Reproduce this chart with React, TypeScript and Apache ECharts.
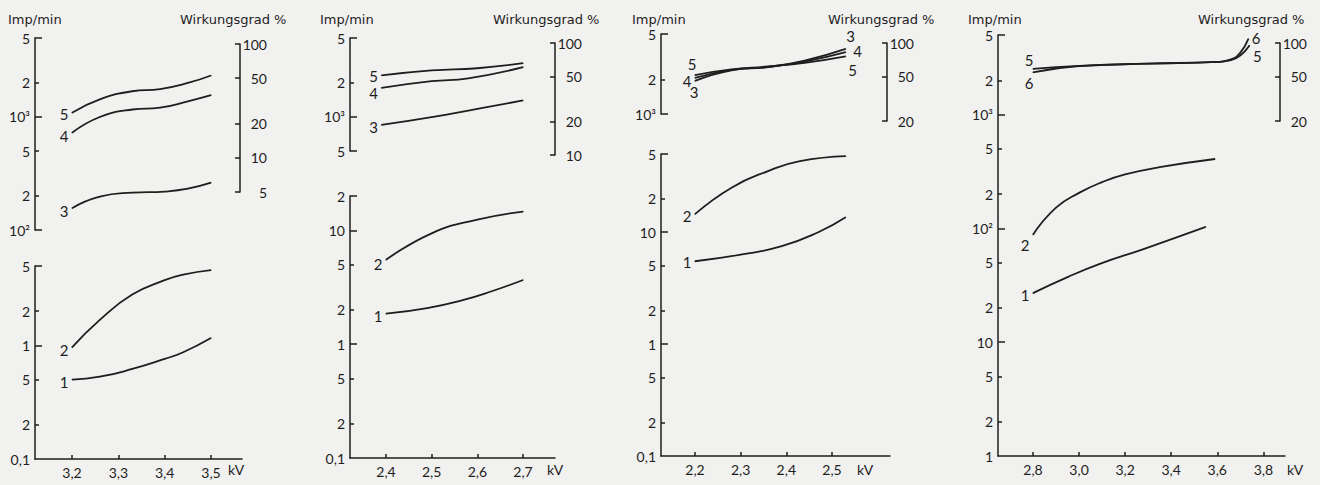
import React, { useEffect, useRef } from 'react';
import * as echarts from 'echarts';

type Pt = [number, number];

const Y_TITLE = 'Imp/min';
const EFF_TITLE = 'Wirkungsgrad %';
const X_UNIT = 'kV';

// ---- x (kV) tick values ----
const P1_KV_TICKS = [3.2, 3.3, 3.4, 3.5];
const P2_KV_TICKS = [2.4, 2.5, 2.6, 2.7];
const P3_KV_TICKS = [2.2, 2.3, 2.4, 2.5];
const P4_KV_TICKS = [2.8, 3.0, 3.2, 3.4, 3.6, 3.8];

// ---- y (Imp/min) tick values and labels ----
const P1_UP_TICKS = [100, 200, 500, 1000, 2000, 5000];
const P1_UP_LABELS = ['10²', '2', '5', '10³', '2', '5'];
const P1_UP_MAJOR = [100, 1000, 5000];
const P1_UP_MINOR = [200, 500, 2000];
const P1_LO_TICKS = [0.1, 0.2, 0.5, 1, 2, 5];
const P1_LO_LABELS = ['0,1', '2', '5', '1', '2', '5'];
const P1_LO_MAJOR = [1, 5];
const P1_LO_MINOR = [0.2, 0.5, 2];

const P2_UP_TICKS = [500, 1000, 2000, 5000];
const P2_UP_LABELS = ['5', '10³', '2', '5'];
const P2_UP_MAJOR = [500, 1000, 5000];
const P2_UP_MINOR = [2000];
const P2_LO_TICKS = [0.1, 0.2, 0.5, 1, 2, 5, 10, 20];
const P2_LO_LABELS = ['0,1', '2', '5', '1', '2', '5', '10', '2'];
const P2_LO_MAJOR = [1, 10, 20];
const P2_LO_MINOR = [0.2, 0.5, 2, 5];

const P3_UP_TICKS = [1000, 2000, 5000];
const P3_UP_LABELS = ['10³', '2', '5'];
const P3_UP_MAJOR = [1000, 5000];
const P3_UP_MINOR = [2000];
const P3_LO_TICKS = [0.1, 0.2, 0.5, 1, 2, 5, 10, 20, 50];
const P3_LO_LABELS = ['0,1', '2', '5', '1', '2', '5', '10', '2', '5'];
const P3_LO_MAJOR = [1, 10, 50];
const P3_LO_MINOR = [0.2, 0.5, 2, 5, 20];

const P4_TICKS = [1, 2, 5, 10, 20, 50, 100, 200, 500, 1000, 2000, 5000];
const P4_LABELS = ['1', '2', '5', '10', '2', '5', '10²', '2', '5', '10³', '2', '5'];
const P4_MAJOR = [10, 100, 1000, 5000];
const P4_MINOR = [2, 5, 20, 50, 200, 500, 2000];

// ---- efficiency (%) ticks ----
const P1_EFF_TICKS = [5, 10, 20, 50, 100];
const P2_EFF_TICKS = [10, 20, 50, 100];
const P3_EFF_TICKS = [20, 50, 100];
const P4_EFF_TICKS = [20, 50, 100];

// ---- curves: [kV, value] ----
const P1_C5: Pt[] = [[3.2, 1090], [3.26, 1430], [3.33, 1690], [3.39, 1765], [3.45, 2000], [3.5, 2330]];
const P1_C4: Pt[] = [[3.2, 725], [3.26, 1000], [3.33, 1165], [3.39, 1210], [3.45, 1375], [3.5, 1560]];
const P1_C3: Pt[] = [[3.2, 156], [3.26, 197], [3.33, 214], [3.4, 219], [3.45, 232], [3.5, 262]];
const P1_C2: Pt[] = [[3.2, 0.96], [3.26, 1.68], [3.33, 2.8], [3.4, 3.75], [3.44, 4.2], [3.5, 4.6]];
const P1_C1: Pt[] = [[3.2, 0.5], [3.26, 0.53], [3.33, 0.62], [3.4, 0.76], [3.44, 0.87], [3.5, 1.16]];

const P2_C5: Pt[] = [[2.39, 2330], [2.5, 2580], [2.6, 2700], [2.7, 2990]];
const P2_C4: Pt[] = [[2.39, 1810], [2.5, 2075], [2.58, 2200], [2.7, 2760]];
const P2_C3: Pt[] = [[2.39, 850], [2.5, 995], [2.6, 1180], [2.7, 1400]];
const P2_C2: Pt[] = [[2.4, 5.5], [2.5, 9.4], [2.6, 12.4], [2.7, 14.6]];
const P2_C1: Pt[] = [[2.4, 1.85], [2.49, 2.07], [2.57, 2.45], [2.63, 2.9], [2.7, 3.66]];

const P3_C5: Pt[] = [[2.2, 2190], [2.28, 2450], [2.36, 2600], [2.44, 2800], [2.53, 3190]];
const P3_C4: Pt[] = [[2.2, 2070], [2.28, 2430], [2.36, 2580], [2.44, 2870], [2.53, 3470]];
const P3_C3: Pt[] = [[2.2, 1945], [2.28, 2410], [2.36, 2570], [2.44, 2930], [2.53, 3710]];
const P3_C2: Pt[] = [[2.2, 14.5], [2.28, 25], [2.36, 35.2], [2.43, 43.1], [2.53, 47.8]];
const P3_C1: Pt[] = [[2.2, 5.5], [2.3, 6.3], [2.39, 7.5], [2.47, 10], [2.53, 13.6]];

const P4_C5: Pt[] = [[2.8, 2520], [3.0, 2680], [3.3, 2800], [3.6, 2900], [3.66, 3000], [3.7, 3300], [3.74, 4040]];
const P4_C6: Pt[] = [[2.8, 2350], [3.0, 2660], [3.3, 2800], [3.6, 2900], [3.66, 3050], [3.7, 3500], [3.735, 4620]];
const P4_C2: Pt[] = [[2.8, 88], [2.9, 152], [3.0, 205], [3.1, 255], [3.2, 298], [3.35, 345], [3.59, 407]];
const P4_C1: Pt[] = [[2.8, 27], [2.95, 37.3], [3.09, 48.8], [3.28, 65.8], [3.55, 103]];

const INK = '#1e1e1e';
const BG = '#f1f1ef';
const NUM_FONT = 'Lato';
const TITLE_FONT = '"DejaVu Sans"';
const L = (v: number) => Math.log10(v);

function buildOption() {
  const grid: any[] = [];
  const xAxis: any[] = [];
  const yAxis: any[] = [];
  const series: any[] = [];
  const graphic: any[] = [];
  const lineStyle = { color: INK, width: 1.5 };

  const addPair = (rect: any, xr: number[], yr: number[], xc: any, yc: any) => {
    const gi = grid.length;
    grid.push({ ...rect, containLabel: false, outerBoundsMode: 'none' });
    xAxis.push({ gridIndex: gi, type: 'value', min: xr[0], max: xr[1], splitLine: { show: false }, ...xc });
    yAxis.push({ gridIndex: gi, type: 'value', min: L(yr[0]), max: L(yr[1]), splitLine: { show: false }, ...yc });
    return gi;
  };
  const hiddenX = { show: false };
  const bottomX = (ticks: number[]) => ({
    position: 'bottom',
    axisLine: { show: true, onZero: false, lineStyle },
    axisTick: { show: true, inside: true, length: 4, customValues: ticks, lineStyle },
    axisLabel: {
      customValues: ticks,
      formatter: (v: number) => v.toFixed(1).replace('.', ','),
      margin: 6, color: INK, fontFamily: NUM_FONT, fontSize: 14, hideOverlap: false,
    },
  });
  const lookup = (ticks: number[], labels: string[]) => (v: number) => {
    const i = ticks.findIndex((t) => Math.abs(L(t) - v) < 1e-6);
    return i >= 0 ? labels[i] : '';
  };
  const leftY = (ticks: number[], labels: string[], major: number[]) => ({
    position: 'left',
    axisLine: { show: true, onZero: false, lineStyle },
    axisTick: { show: true, inside: true, length: 7, customValues: major.map(L), lineStyle },
    axisLabel: {
      customValues: ticks.map(L), formatter: lookup(ticks, labels),
      margin: 5, color: INK, fontFamily: NUM_FONT, fontSize: 14, hideOverlap: false,
    },
  });
  const minorY = (minor: number[]) => ({
    position: 'left',
    axisLine: { show: false, onZero: false },
    axisTick: { show: true, inside: true, length: 4, customValues: minor.map(L), lineStyle },
    axisLabel: { show: false },
  });
  const rightY = (ticks: number[]) => ({
    position: 'right',
    axisLine: { show: true, onZero: false, lineStyle },
    axisTick: { show: true, inside: true, length: 5, customValues: ticks.map(L), lineStyle },
    axisLabel: {
      customValues: ticks.map(L), formatter: lookup(ticks, ticks.map(String)),
      align: 'right', margin: 27, color: INK, fontFamily: NUM_FONT, fontSize: 14, hideOverlap: false,
    },
  });

  type Lab = { idx: number; text: string; position: string; offset: number[] };
  const addCurve = (gi: number, pts: Pt[], labs: Lab[]) => {
    const data = pts.map(([x, v], i) => {
      const lb = labs.find((l) => (l.idx < 0 ? pts.length - 1 : l.idx) === i);
      if (!lb) return [x, L(v)];
      return {
        value: [x, L(v)],
        label: {
          show: true, formatter: lb.text, position: lb.position, offset: lb.offset, distance: 3,
          color: INK, fontFamily: NUM_FONT, fontSize: 15,
        },
      };
    });
    series.push({
      type: 'line', xAxisIndex: gi, yAxisIndex: gi, data,
      smooth: 0.5,
      symbol: 'circle', symbolSize: 1, showSymbol: true, showAllSymbol: true,
      lineStyle: { color: INK, width: 1.8 }, itemStyle: { color: INK },
      label: { show: false }, emphasis: { disabled: true }, silent: true, z: 5,
    });
  };
  const S = (text: string, position = 'left', offset = [0, 0], idx = 0): Lab => ({ idx, text, position, offset });
  const E = (text: string, position = 'right', offset = [0, 0]): Lab => ({ idx: -1, text, position, offset });

  const titles = (imgX: number, effX: number, kvX: number) => {
    graphic.push({ type: 'text', x: imgX, y: 19, style: { text: Y_TITLE, font: `13px ${TITLE_FONT}`, fill: INK, verticalAlign: 'middle' } });
    graphic.push({ type: 'text', x: effX, y: 19, style: { text: EFF_TITLE, font: `13px ${TITLE_FONT}`, fill: INK, verticalAlign: 'middle' } });
    graphic.push({ type: 'text', x: kvX, y: 469, style: { text: X_UNIT, font: `14px ${NUM_FONT}`, fill: INK, verticalAlign: 'middle' } });
  };

  // ---------- Panel 1 ----------
  {
    const xr = [3.1201, 3.5669];
    const up = { left: 35, top: 38, width: 207, height: 192 };
    const lo = { left: 35, top: 266, width: 207, height: 193 };
    const gU = addPair(up, xr, [100, 5000], hiddenX, leftY(P1_UP_TICKS, P1_UP_LABELS, P1_UP_MAJOR));
    addPair(up, xr, [100, 5000], hiddenX, minorY(P1_UP_MINOR));
    const gL = addPair(lo, xr, [0.1, 5], bottomX(P1_KV_TICKS), leftY(P1_LO_TICKS, P1_LO_LABELS, P1_LO_MAJOR));
    addPair(lo, xr, [0.1, 5], hiddenX, minorY(P1_LO_MINOR));
    addPair({ left: 190, top: 44, width: 50, height: 148 }, [0, 1], [5, 100], hiddenX, rightY(P1_EFF_TICKS));
    addCurve(gU, P1_C5, [S('5', 'left', [0, 1])]);
    addCurve(gU, P1_C4, [S('4', 'left', [0, 3])]);
    addCurve(gU, P1_C3, [S('3', 'left', [0, 3])]);
    addCurve(gL, P1_C2, [S('2', 'left', [0, 3])]);
    addCurve(gL, P1_C1, [S('1', 'left', [0, 2])]);
    titles(8, 180, 228);
  }
  // ---------- Panel 2 ----------
  {
    const xr = [2.3212, 2.77];
    const up = { left: 350, top: 38, width: 205, height: 113 };
    const lo = { left: 350, top: 196, width: 205, height: 262 };
    const gU = addPair(up, xr, [500, 5000], hiddenX, leftY(P2_UP_TICKS, P2_UP_LABELS, P2_UP_MAJOR));
    addPair(up, xr, [500, 5000], hiddenX, minorY(P2_UP_MINOR));
    const gL = addPair(lo, xr, [0.1, 20], bottomX(P2_KV_TICKS), leftY(P2_LO_TICKS, P2_LO_LABELS, P2_LO_MAJOR));
    addPair(lo, xr, [0.1, 20], hiddenX, minorY(P2_LO_MINOR));
    addPair({ left: 505, top: 43, width: 50, height: 112 }, [0, 1], [10, 100], hiddenX, rightY(P2_EFF_TICKS));
    addCurve(gU, P2_C5, [S('5', 'left', [0, 1])]);
    addCurve(gU, P2_C4, [S('4', 'left', [0, 5])]);
    addCurve(gU, P2_C3, [S('3', 'left', [0, 2])]);
    addCurve(gL, P2_C2, [S('2', 'left', [0, 4])]);
    addCurve(gL, P2_C1, [S('1', 'left', [0, 2])]);
    titles(320, 493, 547);
  }
  // ---------- Panel 3 ----------
  {
    const xr = [2.1256, 2.627];
    const up = { left: 661, top: 34, width: 229, height: 80 };
    const lo = { left: 661, top: 154, width: 229, height: 302 };
    const gU = addPair(up, xr, [1000, 5000], hiddenX, leftY(P3_UP_TICKS, P3_UP_LABELS, P3_UP_MAJOR));
    addPair(up, xr, [1000, 5000], hiddenX, minorY(P3_UP_MINOR));
    const gL = addPair(lo, xr, [0.1, 50], bottomX(P3_KV_TICKS), leftY(P3_LO_TICKS, P3_LO_LABELS, P3_LO_MAJOR));
    addPair(lo, xr, [0.1, 50], hiddenX, minorY(P3_LO_MINOR));
    addPair({ left: 837, top: 43, width: 50, height: 78 }, [0, 1], [20, 100], hiddenX, rightY(P3_EFF_TICKS));
    addCurve(gU, P3_C5, [S('5', 'top', [-3, 0]), E('5', 'bottom', [7, 3])]);
    addCurve(gU, P3_C4, [S('4', 'left', [0, 3]), E('4', 'right', [4, -1])]);
    addCurve(gU, P3_C3, [S('3', 'bottom', [-1, 0]), E('3', 'top', [5, -2])]);
    addCurve(gL, P3_C2, [S('2', 'left', [0, 2])]);
    addCurve(gL, P3_C1, [S('1', 'left', [0, 1])]);
    titles(632, 828, 857);
  }
  // ---------- Panel 4 ----------
  {
    const xr = [2.6482, 3.894];
    const main = { left: 998, top: 35, width: 287, height: 421 };
    const gM = addPair(main, xr, [1, 5000], bottomX(P4_KV_TICKS), leftY(P4_TICKS, P4_LABELS, P4_MAJOR));
    addPair(main, xr, [1, 5000], hiddenX, minorY(P4_MINOR));
    addPair({ left: 1230, top: 43, width: 50, height: 78 }, [0, 1], [20, 100], hiddenX, rightY(P4_EFF_TICKS));
    addCurve(gM, P4_C5, [S('5', 'top', [-4, 2]), E('5', 'right', [0, 10])]);
    addCurve(gM, P4_C6, [S('6', 'bottom', [-4, 0]), E('6', 'right', [0, -1])]);
    addCurve(gM, P4_C2, [S('2', 'left', [0, 10])]);
    addCurve(gM, P4_C1, [S('1', 'left', [0, 2])]);
    titles(968, 1198, 1287);
  }

  return {
    animation: false,
    backgroundColor: BG,
    grid, xAxis, yAxis, series, graphic,
  };
}

export default function App() {
  const ref = useRef<HTMLDivElement>(null);
  useEffect(() => {
    if (!ref.current) return;
    const chart = echarts.init(ref.current, undefined, { renderer: 'svg' });
    chart.setOption(buildOption() as any);
    return () => chart.dispose();
  }, []);
  return (
    <div
      ref={ref}
      style={{ position: 'absolute', left: 0, top: 0, width: 1320, height: 485 }}
    />
  );
}
